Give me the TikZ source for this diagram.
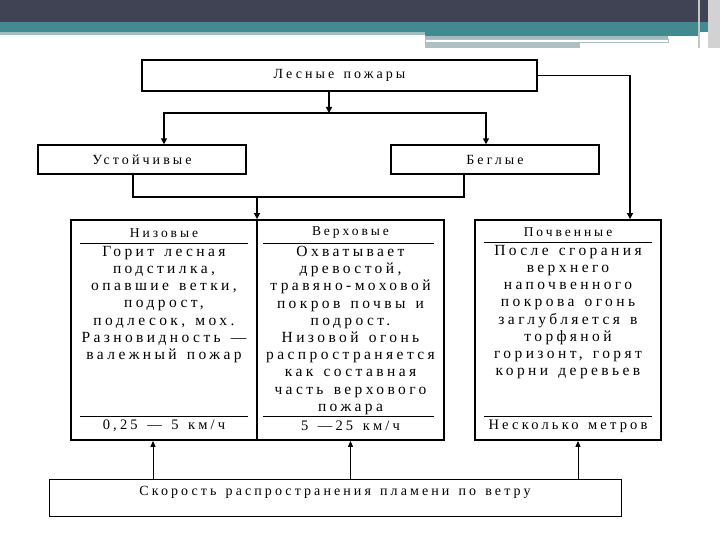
\documentclass[tikz,border=0pt]{standalone}
\usepackage{fontspec}
\setmainfont{Liberation Serif}
\newfontfamily\spaced[LetterSpace=22, WordSpace=1.4]{Liberation Serif}
\usepackage{xcolor}
\usetikzlibrary{positioning, arrows.meta}

\definecolor{topdark}{HTML}{3F4354}
\definecolor{topteal}{HTML}{418A8F}
\definecolor{topline}{HTML}{A6B9C0}
\definecolor{topgrey}{HTML}{AFC0C2}

\begin{document}
\begin{tikzpicture}[
  x=1pt, y=-1pt,
  box/.style={draw, line width=1.4pt, inner sep=0pt, font=\spaced\fontsize{14}{16}\selectfont},
  column/.style={draw, line width=1.8pt, minimum height=220pt},
  head/.style={font=\spaced\fontsize{13.5}{15}\selectfont, inner sep=0pt},
  body/.style={anchor=north, align=center, inner sep=0pt,
    font=\spaced\fontsize{15.5}{17.2}\selectfont},
  speedtxt/.style={font=\spaced\fontsize{14.5}{17}\selectfont, inner sep=0pt},
  sep/.style={line width=0.9pt},
  conn/.style={line width=1.6pt},
  arr/.style={-{Triangle[length=6pt, width=6pt]}, line width=1.6pt},
  arrthin/.style={-{Triangle[length=6pt, width=5pt]}, line width=0.9pt},
]
  \useasboundingbox (0,0) rectangle (720,540);

  % slide header
  \fill[topdark] (0,0) rectangle (720,22);
  \fill[topteal] (0,22) rectangle (720,32);
  \fill[topline] (0,32) rectangle (425,35);
  \fill[topteal] (425,32) rectangle (700,36);
  \fill[topline] (425,36) rectangle (668,39);
  \draw[topgrey, line width=0.6pt] (425,39) rectangle (668,42);
  \fill[topgrey] (425,42) rectangle (580,48);
  \fill[gray!45] (698,0) rectangle (700,48);
  \fill[gray!35] (708,0) rectangle (720,48);

  % boxes
  \node[box, minimum width=395pt, minimum height=31pt] (fires) at (339.5,75.5) {Лесные пожары};
  \node[box, minimum width=208pt, minimum height=29pt] (stable) at (142,159.5) {Устойчивые};
  \node[box, minimum width=208pt, minimum height=29pt] (fast) at (495,159.5) {Беглые};

  \node[column, minimum width=186pt] (low) at (164,330) {};
  \node[column, minimum width=187pt] (crown) at (350.5,330) {};
  \node[column, minimum width=186pt] (ground) at (568,330) {};

  \node[box, line width=0.9pt, minimum width=572pt, minimum height=37pt,
    text depth=14pt] (speed) at (335,497.5)
    {Скорость распространения пламени по ветру};

  % column contents
  \node[head] (lowhead) at (164,233) {Низовые};
  \node[head] (crownhead) at (350.5,233) {Верховые};
  \node[head] (groundhead) at (568,232) {Почвенные};
  \draw[sep] (80,243) -- (248,243);
  \draw[sep] (263,243) -- (434,243);
  \draw[sep] (484,242) -- (652,242);

  \node[body] (lowtext) at (164,246) {Горит лесная\\подстилка,\\опавшие ветки,\\подрост,\\подлесок, мох.\\Разновидность —\\валежный пожар};
  \node[body] (crowntext) at (350.5,246) {Охватывает\\древостой,\\травяно-моховой\\покров почвы и\\подрост.\\Низовой огонь\\распространяется\\как составная\\часть верхового\\пожара};
  \node[body] (groundtext) at (568,245) {После сгорания\\верхнего\\напочвенного\\покрова огонь\\заглубляется в\\торфяной\\горизонт, горят\\корни деревьев};

  \draw[sep] (80,416) -- (248,416);
  \draw[sep] (263,416) -- (434,416);
  \draw[sep] (484,416) -- (652,416);
  \node[speedtxt] (lowspeed) at (164,426) {0,25 — 5 км/ч};
  \node[speedtxt] (crownspeed) at (350.5,426) {5 —25 км/ч};
  \node[speedtxt] (groundspeed) at (568,426) {Несколько метров};

  % connectors
  \coordinate (split) at (329,113);
  \coordinate (merge) at (257,197);
  \draw[arr] (fires.south -| split) -- (split);
  \draw[arr] (split) -| ([xshift=22pt]stable.north);
  \draw[arr] (split) -| ([xshift=-9pt]fast.north);
  \draw[conn] ([xshift=-9pt]stable.south) |- (merge);
  \draw[conn] ([xshift=-31pt]fast.south) |- (merge);
  \draw[arr] (merge) -- (merge |- low.north);
  \draw[arr] (fires.east) -| ([xshift=62pt]ground.north);

  \draw[arrthin] ([xshift=-11pt]low.south |- speed.north) -- ([xshift=-11pt]low.south);
  \draw[arrthin] (crown.south |- speed.north) -- (crown.south);
  \draw[arrthin] ([xshift=10pt]ground.south |- speed.north) -- ([xshift=10pt]ground.south);
\end{tikzpicture}
\end{document}
